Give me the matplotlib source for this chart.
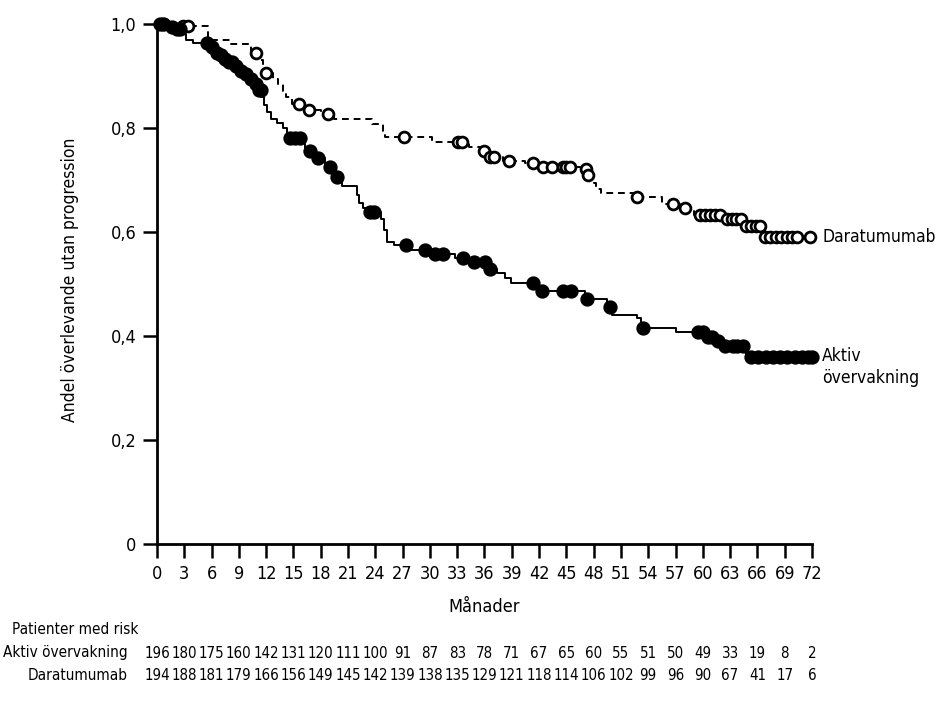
import numpy as np
import matplotlib.pyplot as plt
from matplotlib.transforms import blended_transform_factory

plt.rcParams['font.family'] = ['DejaVu Sans']
plt.rcParams['font.stretch'] = 'condensed'

# Aktiv övervakning: steg (tid, andel) och censurerade tider
aktiv_t = [0, 1.0, 2.0, 2.7, 3.2, 4.0, 5.8, 6.3, 6.8, 7.3, 7.8, 8.3, 8.8, 9.3, 10.2, 10.8,
           11.1, 11.45, 11.8, 12.1, 12.5, 13.2, 13.8, 14.3, 16.3, 17.2, 18.5, 19.5, 20.3,
           22.0, 22.2, 22.6, 23.2, 24.6, 24.9, 25.3, 26.0, 27.9, 30.2, 32.8, 34.4, 36.4,
           37.4, 38.2, 38.9, 42.0, 47.0, 49.5, 50.0, 52.8, 53.2, 57.0, 60.3, 61.3, 62.0, 64.8]
aktiv_s = [1.0, 0.995, 0.99, 0.98, 0.97, 0.963, 0.955, 0.945, 0.94, 0.933, 0.927, 0.92,
           0.91, 0.903, 0.895, 0.885, 0.873, 0.86, 0.845, 0.83, 0.818, 0.81, 0.8, 0.781,
           0.755, 0.742, 0.725, 0.706, 0.688, 0.672, 0.656, 0.646, 0.638, 0.625, 0.604,
           0.581, 0.575, 0.565, 0.558, 0.55, 0.542, 0.529, 0.521, 0.512, 0.502, 0.487,
           0.471, 0.456, 0.44, 0.435, 0.415, 0.408, 0.398, 0.39, 0.38, 0.36]
aktiv_cens = [0.3, 0.7, 1.7, 2.2, 2.5, 5.5, 6.1, 6.6, 7.0, 7.5, 7.9, 8.2, 8.7, 9.2, 9.8,
              10.3, 10.9, 11.2, 11.4, 14.6, 15.2, 15.7, 16.8, 17.7, 19.0, 19.8, 23.4, 23.8,
              27.4, 29.5, 30.6, 31.4, 33.6, 34.8, 36.1, 36.6, 41.3, 42.3, 44.6, 45.5, 47.3,
              49.8, 53.4, 59.5, 60.0, 60.6, 61.0, 61.7, 62.4, 63.3, 63.8, 64.4, 65.3, 66.1,
              66.9, 67.7, 68.5, 69.3, 70.1, 70.9, 71.6, 72.0]

# Daratumumab
dara_t = [0, 2.5, 5.6, 8.0, 10.3, 11.2, 11.6, 11.9, 12.8, 13.3, 13.8, 14.2, 14.8, 16.2,
          18.0, 19.5, 23.6, 24.8, 25.1, 30.2, 34.3, 35.8, 36.3, 38.0, 40.5, 42.0, 46.8,
          47.3, 48.0, 48.3, 48.8, 52.5, 55.5, 57.5, 59.0, 62.4, 64.5, 66.5]
dara_s = [1.0, 0.997, 0.969, 0.962, 0.944, 0.93, 0.918, 0.906, 0.895, 0.885, 0.872, 0.86,
          0.846, 0.835, 0.827, 0.818, 0.808, 0.795, 0.783, 0.773, 0.763, 0.756, 0.744,
          0.737, 0.733, 0.725, 0.721, 0.71, 0.695, 0.683, 0.675, 0.667, 0.654, 0.646,
          0.633, 0.625, 0.611, 0.59]
dara_cens = [0.8, 2.9, 3.4, 10.9, 12.0, 15.6, 16.7, 18.8, 27.2, 33.1, 33.5, 36.0, 36.6,
             37.0, 38.7, 41.3, 42.4, 43.4, 44.6, 45.0, 45.4, 47.2, 47.4, 52.8, 56.7, 58.0,
             59.7, 60.2, 60.8, 61.3, 61.9, 62.7, 63.2, 63.7, 64.2, 64.8, 65.3, 65.8, 66.3,
             66.8, 67.4, 68.0, 68.6, 69.2, 69.8, 70.4, 71.8]

risk_months = list(range(0, 73, 3))
risk_aktiv = [196, 180, 175, 160, 142, 131, 120, 111, 100, 91, 87, 83, 78, 71, 67, 65,
              60, 55, 51, 50, 49, 33, 19, 8, 2]
risk_dara = [194, 188, 181, 179, 166, 156, 149, 145, 142, 139, 138, 135, 129, 121, 118,
             114, 106, 102, 99, 96, 90, 67, 41, 17, 6]

y_ticks = [0, 0.2, 0.4, 0.6, 0.8, 1.0]
y_labels = ['0', '0,2', '0,4', '0,6', '0,8', '1,0']


def km(ax, t, s, cens, ls, mfc, ms, mew):
    t = np.asarray(t)
    s = np.asarray(s)
    c = np.asarray(cens)
    tt = np.append(t, c.max())
    ss = np.append(s, s[-1])
    ax.step(tt, ss, where='post', color='black', lw=1.4, ls=ls, clip_on=False, zorder=2)
    cy = s[np.searchsorted(t, c, side='right') - 1]
    ax.plot(c, cy, 'o', ms=ms, mfc=mfc, mec='black', mew=mew, ls='none',
            clip_on=False, zorder=3)


fig = plt.figure(figsize=(9.45, 7.06), dpi=100)
ax = fig.add_axes([157 / 945, 1 - 544 / 706, 655 / 945, 520 / 706])

km(ax, dara_t, dara_s, dara_cens, (0, (3.5, 2.5)), 'white', 7.8, 2.0)
km(ax, aktiv_t, aktiv_s, aktiv_cens, '-', 'black', 9.3, 1.0)

ax.set_xlim(0, 72)
ax.set_ylim(0, 1.0)
ax.set_xticks(risk_months)
ax.set_yticks(y_ticks)
ax.set_yticklabels(y_labels)
for side in ['top', 'right']:
    ax.spines[side].set_visible(False)
for side in ['left', 'bottom']:
    ax.spines[side].set_linewidth(2)
ax.tick_params(direction='out', length=10, width=1.8, labelsize=13, pad=5)

ax.text(73.1, 0.59, 'Daratumumab', va='center', ha='left', fontsize=12.5)
ax.text(73.1, 0.362, 'Aktiv', va='center', ha='left', fontsize=12.5)
ax.text(73.1, 0.32, 'övervakning', va='center', ha='left', fontsize=12.5)

fig.text(484.5 / 945, 1 - 607 / 706, 'Månader', ha='center', va='center', fontsize=13)
fig.text(70 / 945, 1 - 280 / 706, 'Andel överlevande utan progression', rotation=90,
         ha='center', va='center', fontsize=12.5)

# Tabell med patienter i riskzonen
tr = blended_transform_factory(ax.transData, fig.transFigure)
fig.text(12 / 945, 1 - 630 / 706, 'Patienter med risk', ha='left', va='center', fontsize=11)
fig.text(128 / 945, 1 - 653 / 706, 'Aktiv övervakning', ha='right', va='center', fontsize=11)
fig.text(128 / 945, 1 - 675 / 706, 'Daratumumab', ha='right', va='center', fontsize=11)
for m, a, d in zip(risk_months, risk_aktiv, risk_dara):
    ax.text(m, 1 - 653 / 706, str(a), transform=tr, ha='center', va='center', fontsize=10.8)
    ax.text(m, 1 - 675 / 706, str(d), transform=tr, ha='center', va='center', fontsize=10.8)

fig.savefig('out.png', dpi=100)
